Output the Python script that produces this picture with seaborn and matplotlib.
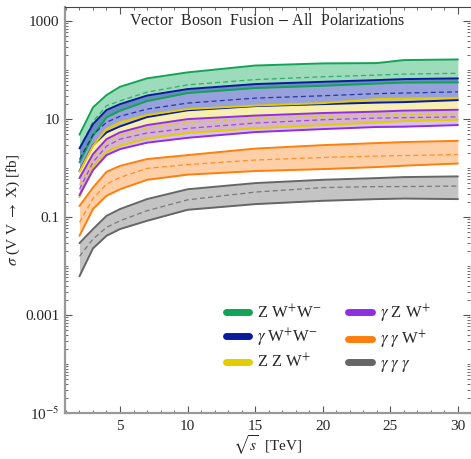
import numpy as np
import pandas as pd
import seaborn as sns
import matplotlib.pyplot as plt
from matplotlib.ticker import FixedLocator, MultipleLocator, NullFormatter
from matplotlib.lines import Line2D

# sqrt(s) in TeV
sqrt_s = [2, 3, 4, 5, 7, 10, 15, 20, 24, 26, 30]

# cross sections [fb]: upper / central / lower
zww_hi = [4.8, 17.3, 30.9, 45.6, 67.8, 89.8, 124, 137, 139, 160, 165]
zww_mid = [2.5, 8.9, 18.7, 23.6, 35.5, 50, 64, 73, 79, 83, 86]
zww_lo = [1.31, 4.56, 10.8, 14.8, 23.3, 34, 43, 47.9, 53, 55.6, 56]

gww_hi = [2.52, 7.9, 15.3, 20.2, 30.2, 41, 51.8, 57.7, 62.5, 65.5, 67.7]
gww_mid = [1.5, 4.8, 8.6, 11.4, 16, 21.2, 26.8, 29.9, 33.1, 34, 36]
gww_lo = [0.87, 2.94, 5.36, 7.1, 11, 15.1, 18.4, 20.2, 21.7, 22.2, 24.4]

zzw_hi = [0.84, 2.85, 6.25, 8.6, 12.1, 16, 18.9, 21.2, 25.6, 26.2, 27.2]
zzw_mid = [0.45, 1.67, 3.4, 4.7, 6.5, 8.6, 10.2, 11.4, 12.1, 12.4, 12.7]
zzw_lo = [0.256, 1.05, 2.12, 2.85, 4.0, 5.2, 6.5, 7.55, 8.5, 9.1, 9.7]

gzw_hi = [0.625, 1.93, 3.9, 5.36, 7.55, 10, 11.8, 13.3, 14.2, 14.9, 15.5]
gzw_mid = [0.37, 1.32, 2.81, 3.9, 5.2, 6.46, 8.3, 9.7, 10.5, 10.7, 11.1]
gzw_lo = [0.28, 0.91, 1.84, 2.44, 3.3, 4.15, 5.43, 6.25, 6.9, 7.0, 7.55]

ggw_hi = [0.168, 0.40, 0.84, 1.11, 1.53, 1.84, 2.5, 2.94, 3.24, 3.4, 3.6]
ggw_mid = [0.078, 0.24, 0.47, 0.645, 0.987, 1.18, 1.46, 1.65, 1.76, 1.8, 1.89]
ggw_lo = [0.0415, 0.146, 0.272, 0.37, 0.577, 0.736, 0.87, 0.955, 1.05, 1.12, 1.24]

ggg_hi = [0.0294, 0.057, 0.106, 0.146, 0.233, 0.37, 0.494, 0.577, 0.625, 0.655, 0.677]
ggg_mid = [0.0158, 0.0356, 0.0617, 0.084, 0.135, 0.225, 0.324, 0.40, 0.42, 0.42, 0.43]
ggg_lo = [0.0062, 0.023, 0.0415, 0.057, 0.084, 0.141, 0.184, 0.215, 0.233, 0.239, 0.233]

labels = [r'Z W$^{+}$W$^{-}$', r'$\gamma$ W$^{+}$W$^{-}$', r'Z Z W$^{+}$',
          r'$\gamma$ Z W$^{+}$', r'$\gamma$ $\gamma$ W$^{+}$', r'$\gamma$ $\gamma$ $\gamma$']
line_colors = ['#12a356', '#0a1a9c', '#e3cc00', '#8f2fe0', '#ff7f0e', '#666666']
fill_colors = ['#3cba78', '#3344bb', '#f0e060', '#b57cec', '#ffa050', '#8a8a8a']
bands = [(zww_hi, zww_mid, zww_lo), (gww_hi, gww_mid, gww_lo), (zzw_hi, zzw_mid, zzw_lo),
         (gzw_hi, gzw_mid, gzw_lo), (ggw_hi, ggw_mid, ggw_lo), (ggg_hi, ggg_mid, ggg_lo)]

rows = []
for lab, (hi, mid, lo) in zip(labels, bands):
    for b, vals in (('hi', hi), ('mid', mid), ('lo', lo)):
        for x, v in zip(sqrt_s, vals):
            rows.append({'sqrt_s': x, 'sigma': v, 'process': lab, 'bound': b})
df = pd.DataFrame(rows)

sns.set_style('ticks')
plt.rcParams['font.family'] = ['Liberation Serif', 'DejaVu Serif']
plt.rcParams['mathtext.fontset'] = 'stix'

fig = plt.figure(figsize=(4.71, 4.59), dpi=100)
ax = fig.add_axes([0.138, 0.100, 0.860, 0.885])

for lab, lc, fc in zip(labels, line_colors, fill_colors):
    sub = df[df['process'] == lab]
    hi = sub[sub['bound'] == 'hi']['sigma'].values
    lo = sub[sub['bound'] == 'lo']['sigma'].values
    ax.fill_between(sqrt_s, lo, hi, color=fc, alpha=0.5, lw=0)
    sns.lineplot(data=sub[sub['bound'] == 'hi'], x='sqrt_s', y='sigma', color=lc, lw=1.4, ax=ax)
    sns.lineplot(data=sub[sub['bound'] == 'lo'], x='sqrt_s', y='sigma', color=lc, lw=1.4, ax=ax)
    sns.lineplot(data=sub[sub['bound'] == 'mid'], x='sqrt_s', y='sigma', color=lc, lw=0.9,
                 ax=ax, linestyle=(0, (4, 2.5)), alpha=0.8)

ax.set_yscale('log')
ax.set_xlim(0.93, 30.9)
ax.set_ylim(1e-5, 1950)

ax.set_yticks([1e-5, 1e-3, 0.1, 10, 1000])
ax.set_yticklabels([r'10$^{-5}$', '0.001', '0.1', '10', '1000'])
minors = [m * 10.0 ** k for k in range(-5, 4) for m in range(2, 10)] + [1e-4, 1e-2, 1, 100]
ax.yaxis.set_minor_locator(FixedLocator(minors))
ax.yaxis.set_minor_formatter(NullFormatter())
ax.set_xticks([5, 10, 15, 20, 25, 30])
ax.xaxis.set_minor_locator(MultipleLocator(1))

ax.tick_params(which='both', direction='in', top=True, right=True, color='#555555',
               labelsize=11)
ax.tick_params(axis='x', pad=5)
ax.tick_params(axis='y', pad=4)
ax.tick_params(which='major', length=5, width=0.8)
ax.tick_params(which='minor', length=2.5, width=0.6)
for s in ['left', 'bottom']:
    ax.spines[s].set_color('#999999')
    ax.spines[s].set_linewidth(1.6)
ax.spines['top'].set_color('#444444')
ax.spines['top'].set_linewidth(0.8)
ax.spines['right'].set_visible(False)

ax.set_xlabel(r'$\sqrt{s}$  [TeV]', fontsize=11, labelpad=0)
ax.set_ylabel(r'$\sigma$ (V V $\rightarrow$ X) [fb]', fontsize=11, labelpad=2)
ax.text(0.5, 0.985, r'Vector  Boson  Fusion $-$ All  Polarizations', transform=ax.transAxes,
        ha='center', va='top', fontsize=11.5)

handles = [Line2D([0], [0], color=c, lw=5) for c in line_colors]
ax.legend(handles, labels, ncol=2, frameon=False,
          loc='upper left', bbox_to_anchor=(0.36, 0.31), fontsize=12, handlelength=1.4,
          handletextpad=0.5, columnspacing=1.6, labelspacing=0.25)

fig.savefig('out.png', dpi=100)
